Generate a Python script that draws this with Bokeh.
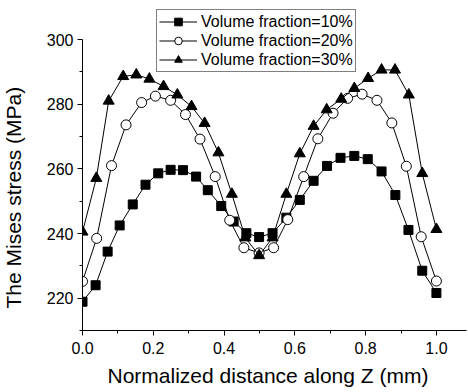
from bokeh.plotting import figure
from bokeh.models import FixedTicker, PrintfTickFormatter, Legend, LegendItem, Title, LinearAxis
from bokeh.embed import file_html
from bokeh.resources import INLINE

# ---- data ----
x_10 = [0.0, 0.037, 0.071, 0.105, 0.142, 0.178, 0.214, 0.249, 0.284, 0.321, 0.354, 0.392, 0.427, 0.463,
        0.499, 0.537, 0.576, 0.614, 0.653, 0.691, 0.729, 0.768, 0.806, 0.845, 0.884, 0.921, 0.960, 1.0]
y_10 = [218.9, 224.0, 234.4, 242.5, 249.0, 255.1, 258.6, 259.7, 259.6, 257.6, 253.4, 248.5, 243.7, 240.1,
        238.9, 240.1, 244.9, 250.4, 256.3, 260.9, 263.4, 264.0, 263.0, 259.2, 251.9, 241.1, 228.5, 221.6]

x_20 = [0.0, 0.040, 0.082, 0.123, 0.167, 0.206, 0.249, 0.291, 0.332, 0.375, 0.416, 0.456, 0.499,
        0.540, 0.580, 0.625, 0.665, 0.708, 0.749, 0.790, 0.832, 0.874, 0.915, 0.957, 1.0]
y_20 = [225.2, 238.5, 261.0, 273.6, 280.5, 282.5, 281.2, 276.8, 269.2, 257.6, 244.1, 235.6, 234.0,
        235.6, 244.3, 257.6, 269.3, 277.2, 281.8, 283.1, 281.2, 274.2, 260.8, 239.0, 225.3]

x_30 = [0.0, 0.039, 0.074, 0.115, 0.152, 0.189, 0.229, 0.268, 0.308, 0.345, 0.384, 0.422, 0.460, 0.499,
        0.537, 0.576, 0.614, 0.653, 0.690, 0.731, 0.768, 0.807, 0.845, 0.883, 0.922, 0.960, 1.0]
y_30 = [240.5, 257.1, 281.0, 288.6, 289.1, 287.8, 285.5, 282.9, 279.3, 274.1, 265.0, 252.2, 238.7, 233.2,
        238.7, 252.2, 264.7, 273.2, 278.3, 281.6, 284.9, 288.0, 290.6, 290.6, 282.9, 258.6, 241.3]

labels = ["Volume fraction=10%", "Volume fraction=20%", "Volume fraction=30%"]
x_title = "Normalized distance along Z (mm)"
y_title = "The Mises stress (MPa)"
x_ticks = [0.0, 0.2, 0.4, 0.6, 0.8, 1.0]
x_minor = [0.1, 0.3, 0.5, 0.7, 0.9]
y_ticks = [220, 240, 260, 280, 300]
y_minor = [210, 230, 250, 270, 290]

FONT = "Liberation Sans"

# frame: left 82, bottom 330, top 0 (y axis itself bounded to 210..300)
p = figure(width=468, height=392, x_range=(0, 1.085), y_range=(210, 312.07),
           output_backend="svg", toolbar_location=None,
           min_border_left=82, min_border_right=2, min_border_top=0, min_border_bottom=62)
p.outline_line_color = None
p.xgrid.visible = False
p.ygrid.visible = False
p.background_fill_color = "white"
p.border_fill_color = "white"

items = []
specs = [
    (x_10, y_10, "square", "black", 9),
    (x_20, y_20, "circle", "white", 10),
    (x_30, y_30, "triangle", "black", 11),
]
for (xs, ys, mk, fill, sz), lab in zip(specs, labels):
    ln = p.line(xs, ys, line_color="black", line_width=1)
    sc = p.scatter(xs, ys, marker=mk, size=sz, fill_color=fill, line_color="black", line_width=1)
    items.append(LegendItem(label=lab, renderers=[ln, sc]))

for ax in (p.xaxis[0], p.yaxis[0]):
    ax.axis_line_color = "black"
    ax.major_tick_line_color = "black"
    ax.minor_tick_line_color = "black"
    ax.major_tick_in = 0
    ax.major_tick_out = 5
    ax.minor_tick_in = 0
    ax.minor_tick_out = 3
    ax.major_label_text_font = FONT
    ax.major_label_text_font_size = "16px"
    ax.major_label_text_color = "black"

p.xaxis.ticker = FixedTicker(ticks=x_ticks, minor_ticks=x_minor)
p.xaxis.formatter = PrintfTickFormatter(format="%.1f")
p.xaxis.major_label_standoff = 6

p.yaxis.ticker = FixedTicker(ticks=y_ticks, minor_ticks=y_minor)
p.yaxis.formatter = PrintfTickFormatter(format="%d")
p.yaxis.major_label_standoff = 4
p.yaxis.bounds = (210, 300)


def spacer(size, tick):
    # an invisible axis (one hidden tick, empty label) used only to push the title further out
    return LinearAxis(ticker=FixedTicker(ticks=[tick]), major_label_overrides={tick: ""},
                      axis_line_color=None, major_tick_line_color=None, minor_tick_line_color=None,
                      major_tick_in=0, major_tick_out=size, minor_tick_in=0, minor_tick_out=0,
                      major_label_standoff=0)


p.add_layout(spacer(6, 0.5), "below")
p.add_layout(spacer(18, 250), "left")

# axis titles as side-panel titles, shifted with offset
p.add_layout(Title(text=x_title, align="left", offset=25, vertical_align="middle",
                   text_font=FONT, text_font_size="21px", text_font_style="normal",
                   text_color="black", standoff=0), "below")
p.add_layout(Title(text=y_title, align="left", offset=22, vertical_align="middle",
                   text_font=FONT, text_font_size="21px", text_font_style="normal",
                   text_color="black", standoff=0), "left")

legend = Legend(items=items, location=(74, 258))
legend.border_line_color = "black"
legend.border_line_width = 1
legend.background_fill_color = "white"
legend.background_fill_alpha = 1.0
legend.label_text_font = FONT
legend.label_text_font_size = "16px"
legend.label_text_color = "black"
legend.glyph_width = 38
legend.glyph_height = 19
legend.label_height = 19
legend.label_standoff = 4
legend.spacing = 0
legend.padding = 2
legend.margin = 0
p.add_layout(legend)

open("out.html", "w").write(file_html(p, INLINE))
